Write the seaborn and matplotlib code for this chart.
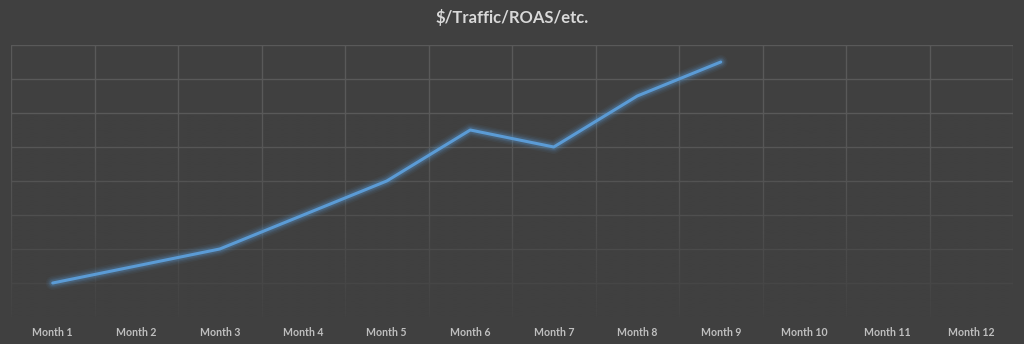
import numpy as np
import matplotlib
matplotlib.use("Agg")
import matplotlib.pyplot as plt
import seaborn as sns
from matplotlib.colors import to_rgb

months = [f"Month {i}" for i in range(1, 13)]
values = [1.0, 1.5, 2.0, 3.0, 4.0, 5.5, 5.0, 6.5, 7.5]
title = "$/Traffic/ROAS/etc."

bg = "#404040"
grid_c = "#595959"
line_c = "#5b9bd5"

sns.set_theme(style="dark")
plt.rcParams["font.family"] = ["Lato", "DejaVu Sans"]

fig = plt.figure(figsize=(10.24, 3.44), dpi=100, facecolor=bg)
ax = fig.add_axes([11/1024, 27/344, 1002/1024, 272/344])
ax.set_facecolor(bg)

x = list(range(len(values)))
# glow
for lw, a in [(10, 0.06), (8, 0.08), (6, 0.12), (4.5, 0.18)]:
    sns.lineplot(x=x, y=values, ax=ax, color=line_c, linewidth=lw, alpha=a,
                 solid_capstyle="round", solid_joinstyle="round", zorder=4)
sns.lineplot(x=x, y=values, ax=ax, color=line_c, linewidth=2.2,
             solid_joinstyle="round", zorder=5)

ax.set_xlim(-0.5, 11.5)
ax.set_ylim(0, 8)
ax.set_xticks(range(12))
ax.set_xticklabels(months, color="#bfbfbf", fontsize=7.6, fontweight="bold")
ax.set_xticks(np.arange(-0.5, 12, 1), minor=True)
ax.set_yticks(range(0, 9))
ax.set_yticklabels([])
ax.tick_params(axis="x", which="both", length=0, pad=7)
ax.tick_params(axis="y", length=0)
ax.grid(False)
ax.grid(True, axis="x", which="minor", color=grid_c, linewidth=1)
ax.grid(True, axis="y", which="major", color=grid_c, linewidth=1)
ax.set_axisbelow(True)
for s in ax.spines.values():
    s.set_visible(False)
ax.set_xlabel("")
ax.set_ylabel("")

# fade gridlines toward the bottom
r, g, b = to_rgb(bg)
n = 256
grad = np.zeros((n, 1, 4))
t = np.linspace(0, 1, n)  # 0 bottom, 1 top
alpha = np.clip((0.75 - t) / 0.75, 0, 1) ** 1.2
grad[:, 0, 0] = r; grad[:, 0, 1] = g; grad[:, 0, 2] = b
grad[:, 0, 3] = alpha * 0.9
ax.imshow(grad, extent=(-0.5, 11.5, 0, 8), origin="lower", aspect="auto",
          zorder=2, interpolation="bilinear")
ax.set_xlim(-0.5, 11.5)
ax.set_ylim(0, 8)

fig.text(0.5, 1 - 18/344, title, ha="center", va="center", color="#d9d9d9",
         fontsize=12, fontweight="bold")

fig.savefig("out.png", dpi=100, facecolor=bg)
